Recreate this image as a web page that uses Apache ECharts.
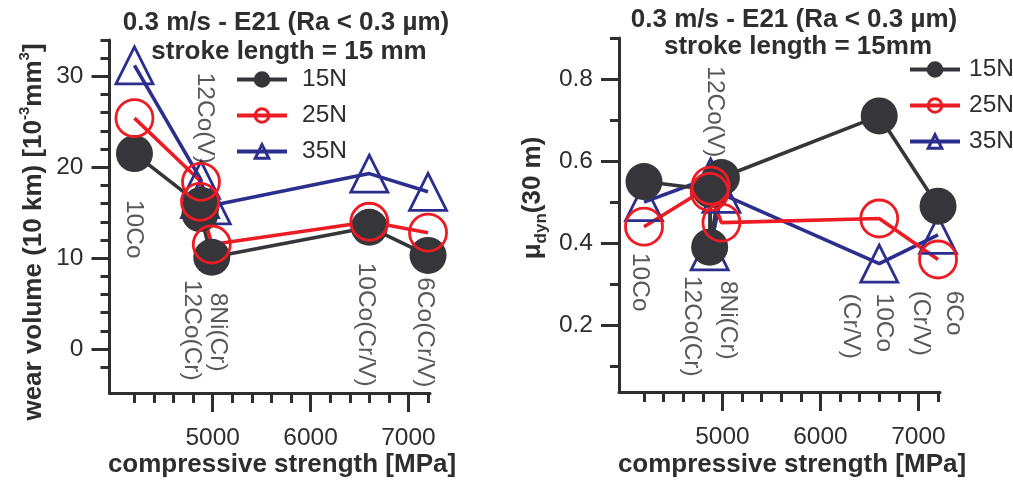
<!DOCTYPE html>
<html>
<head>
<meta charset="utf-8">
<script src="https://cdn.jsdelivr.net/npm/echarts@6/dist/echarts.min.js"></script>
<style>
  html, body { margin: 0; padding: 0; background: #fff; }
  #chart { width: 1013px; height: 481px; }
</style>
</head>
<body>
<div id="chart"></div>
<script>
// materials and their compressive strength [MPa]
var materials = ['10Co', '12Co(V)', '12Co(Cr)', '8Ni(Cr)', '10Co(Cr/V)', '6Co(Cr/V)'];
var materialsShort = ['10Co', '12Co(V)', '12Co(Cr)', '8Ni(Cr)', '10Co\n(Cr/V)', '6Co\n(Cr/V)'];
var strength = [4200, 4880, 4870, 4990, 6600, 7200];
var loads = ['15N', '25N', '35N'];

// wear volume (10 km) [10^-3 mm^3]
var wear15 = [21.5, 15.8, 14.9, 10.1, 13.4, 10.3];
var wear25 = [25.4, 18.4, 16.2, 11.5, 14.0, 12.8];
var wear35 = [31.2, 18.6, 16.5, 15.8, 19.3, 17.3];

// mu_dyn (30 m)
var mu15 = [0.55, 0.53, 0.39, 0.56, 0.71, 0.49];
var mu25 = [0.44, 0.54, 0.525, 0.45, 0.46, 0.36];
var mu35 = [0.50, 0.56, 0.38, 0.52, 0.35, 0.42];

// tick values
var xMajor = [5000, 6000, 7000];
var xMinor = [4200, 4400, 4600, 4800, 5200, 5400, 5600, 5800, 6200, 6400, 6600, 6800, 7200];
var wearMajor = [0, 10, 20, 30];
var wearMinor = [-2, 2, 4, 6, 8, 12, 14, 16, 18, 22, 24, 26, 28, 32, 34];
var muMajor = [0.2, 0.4, 0.6, 0.8];
var muMinor = [0.1, 0.3, 0.5, 0.7, 0.9];

// where the material names start (data units)
var wearNameAt = [[4190, 16.4], [4916, 30.4], [4784, 7.6], [5048, 6.2], [6560, 9.5], [7169, 7.9]];
var muNameAt = [[4159, 0.376], [4922, 0.831], [4688, 0.32], [5054, 0.308], [6478, 0.277], [7190, 0.284]];

var FONT = '"Liberation Sans", Arial, Helvetica, sans-serif';
var TXT = '#2e2e2e';
var BLACK = '#36363a', RED = '#ed1c24', BLUE = '#2b2e8c';

function pairs(xs, ys) {
    return xs.map(function (x, i) { return [x, ys[i]]; });
}

function loadSeries(name, ys, idx) {
    var s = {
        name: name, type: 'line', xAxisIndex: idx, yAxisIndex: idx,
        data: pairs(strength, ys), symbolSize: 37,
        lineStyle: { width: 3.6 }, animation: false
    };
    if (name === '15N') {
        s.symbol = 'circle';
        s.itemStyle = { color: BLACK, borderColor: BLACK, borderWidth: 0 };
        s.lineStyle.color = BLACK;
    } else if (name === '25N') {
        s.symbol = 'circle';
        s.itemStyle = { color: 'rgba(0,0,0,0)', borderColor: RED, borderWidth: 2.8 };
        s.lineStyle.color = RED;
    } else {
        s.symbol = 'triangle';
        s.itemStyle = { color: 'rgba(0,0,0,0)', borderColor: BLUE, borderWidth: 2.8 };
        s.lineStyle.color = BLUE;
    }
    return s;
}

function nameSeries(pos, names, idx) {
    return {
        type: 'scatter', xAxisIndex: idx, yAxisIndex: idx, silent: true, animation: false,
        symbolSize: 1, itemStyle: { color: 'rgba(0,0,0,0)' },
        data: pos.map(function (p, i) { return { value: p, name: names[i] }; }),
        label: {
            show: true, position: 'inside', formatter: '{b}', rotate: -90,
            align: 'left', verticalAlign: 'middle',
            fontSize: 24.5, lineHeight: 33, fontFamily: FONT, color: TXT
        },
        z: 5
    };
}

function xAxes(grid) {
    var base = { type: 'value', gridIndex: grid, min: 3945, max: 7220, position: 'bottom', splitLine: { show: false } };
    var major = Object.assign({}, base, {
        axisLine: { show: true, onZero: false, lineStyle: { color: TXT, width: 3 } },
        axisTick: { show: true, customValues: xMajor, length: 19, lineStyle: { color: TXT, width: 3 } },
        axisLabel: {
            customValues: xMajor, margin: 33, fontSize: 24.5, color: TXT, fontFamily: FONT,
            formatter: function (v) { return String(v); }
        }
    });
    var minor = Object.assign({}, base, {
        axisLine: { show: false, onZero: false },
        axisTick: { show: true, customValues: xMinor, length: 10, lineStyle: { color: TXT, width: 3 } },
        axisLabel: { show: false }
    });
    return [major, minor];
}

function yAxes(grid, min, max, majorVals, minorVals, fmt) {
    var base = { type: 'value', gridIndex: grid, min: min, max: max, position: 'left', splitLine: { show: false } };
    var major = Object.assign({}, base, {
        axisLine: { show: true, onZero: false, lineStyle: { color: TXT, width: 3 } },
        axisTick: { show: true, customValues: majorVals, length: 18, lineStyle: { color: TXT, width: 3 } },
        axisLabel: { customValues: majorVals, margin: 26, fontSize: 24.5, color: TXT, fontFamily: FONT, formatter: fmt }
    });
    var minor = Object.assign({}, base, {
        axisLine: { show: false, onZero: false },
        axisTick: { show: true, customValues: minorVals, length: 9, lineStyle: { color: TXT, width: 3 } },
        axisLabel: { show: false }
    });
    return [major, minor];
}

function legendAt(left, top, gap) {
    return {
        data: loads, orient: 'vertical', left: left, top: top, padding: 0,
        itemWidth: 50, itemHeight: 17, itemGap: 11,
        lineStyle: { width: 4 },
        itemStyle: { borderWidth: 3 },
        textStyle: { fontSize: 24.5, lineHeight: 24, color: TXT, fontFamily: FONT, padding: [0, 0, 0, gap] }
    };
}

function text(x, y, str, size, bold) {
    return {
        type: 'text', x: x, y: y, silent: true,
        style: {
            text: str, fill: TXT, align: 'center', verticalAlign: 'middle',
            font: (bold ? 'bold ' : '') + size + 'px ' + FONT
        }
    };
}

var bold = { fontSize: 26, fontWeight: 'bold', fontFamily: FONT, fill: TXT };

var chart = echarts.init(document.getElementById('chart'));
chart.setOption({
    backgroundColor: '#fff',
    animation: false,
    grid: [
        { left: 109.5, top: 40, width: 320.5, height: 353 },
        { left: 619, top: 38, width: 321, height: 354 }
    ],
    xAxis: xAxes(0).concat(xAxes(1)),
    yAxis: yAxes(0, -4.84, 34, wearMajor, wearMinor, function (v) { return v; })
        .concat(yAxes(1, 0.037, 0.9, muMajor, muMinor, function (v) { return v.toFixed(1); })),
    legend: [legendAt(235, 67, 10), legendAt(908, 57, 4)],
    series: [
        loadSeries('35N', wear35, 0),
        loadSeries('15N', wear15, 0),
        loadSeries('25N', wear25, 0),
        nameSeries(wearNameAt, materials, 0),
        loadSeries('35N', mu35, 2),
        loadSeries('15N', mu15, 2),
        loadSeries('25N', mu25, 2),
        nameSeries(muNameAt, materialsShort, 2)
    ],
    graphic: [
        text(286, 23, '0.3 m/s - E21 (Ra < 0.3 µm)', 26, true),
        text(289, 52, 'stroke length = 15 mm', 26, true),
        text(794, 20, '0.3 m/s - E21 (Ra < 0.3 µm)', 26, true),
        text(798, 47, 'stroke length = 15mm', 26, true),
        text(282, 465, 'compressive strength [MPa]', 26, true),
        text(792, 465, 'compressive strength [MPa]', 26, true),
        {
            type: 'text', x: 32, y: 232, rotation: Math.PI / 2, silent: true,
            style: {
                text: '{b|wear volume (10 km) [10}{s|-3}{b|mm}{s|3}{b|]}',
                align: 'center', verticalAlign: 'middle',
                rich: {
                    b: Object.assign({}, bold, { lineHeight: 30, verticalAlign: 'bottom' }),
                    s: Object.assign({}, bold, { fontSize: 15, lineHeight: 14, verticalAlign: 'top' })
                }
            }
        },
        {
            type: 'text', x: 535, y: 198, rotation: Math.PI / 2, silent: true,
            style: {
                text: '{b|μ}{s|dyn}{b|(30 m)}',
                align: 'center', verticalAlign: 'middle',
                rich: {
                    b: Object.assign({}, bold, { lineHeight: 30, verticalAlign: 'top' }),
                    s: Object.assign({}, bold, { fontSize: 17, lineHeight: 16, verticalAlign: 'bottom' })
                }
            }
        }
    ]
});
</script>
</body>
</html>
